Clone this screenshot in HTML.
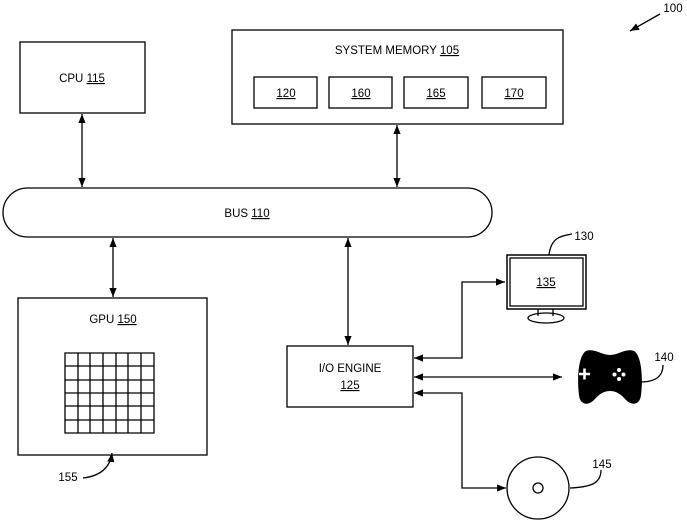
<!DOCTYPE html>
<html><head><style>
html,body{margin:0;padding:0;background:#fff}
svg{display:block}
text{font-family:"Liberation Sans",sans-serif;font-size:11.5px;fill:#000}
</style></head><body>
<svg width="687" height="522" viewBox="0 0 687 522" xmlns="http://www.w3.org/2000/svg">
<defs>
<marker id="a" viewBox="0 0 10 10" refX="10" refY="5" markerWidth="9" markerHeight="9" orient="auto-start-reverse" markerUnits="userSpaceOnUse"><path d="M0,1 L10,5 L0,9 z" fill="#000"/></marker>
</defs>
<g fill="none" stroke="#000" stroke-width="1.3">
<rect x="20" y="42" width="125" height="71"/>
<rect x="232" y="30" width="331" height="94"/>
<rect x="254" y="77" width="63" height="31"/>
<rect x="329" y="77" width="63" height="31"/>
<rect x="404" y="77" width="64" height="31"/>
<rect x="482" y="77" width="64" height="31"/>
<rect x="3" y="188" width="489" height="49" rx="24.5"/>
<rect x="18" y="298" width="189" height="157"/>
<rect x="287" y="346" width="126" height="61"/>
<line x1="82" y1="114" x2="82" y2="187" marker-start="url(#a)" marker-end="url(#a)"/>
<line x1="397" y1="125" x2="397" y2="187" marker-start="url(#a)" marker-end="url(#a)"/>
<line x1="113" y1="238" x2="113" y2="297" marker-start="url(#a)" marker-end="url(#a)"/>
<line x1="348" y1="238" x2="348" y2="345" marker-start="url(#a)" marker-end="url(#a)"/>
<path d="M414,358 H462 V282 H505" marker-start="url(#a)" marker-end="url(#a)"/>
<line x1="414" y1="377" x2="562" y2="377" marker-start="url(#a)" marker-end="url(#a)"/>
<path d="M414,393 H462 V488 H506" marker-start="url(#a)" marker-end="url(#a)"/>
<rect x="507" y="255" width="79" height="54" stroke-width="1.5"/>
<rect x="510" y="258" width="73" height="48" stroke-width="1.3"/>
<path d="M538,309 V316 M553,309 V316"/>
<ellipse cx="546" cy="318" rx="18" ry="5"/>
<path d="M549,255 C551,238 560,236 572,234"/>
<circle cx="538" cy="488" r="31"/>
<circle cx="538" cy="488" r="5"/>
<path d="M570,488 C590,487 601,484 601,470"/>
<path d="M640,382 C655,382 663,377 663,365"/>
<path d="M65,353 H154 V433 H65 Z M78,353 V433 M90,353 V433 M103,353 V433 M116,353 V433 M128,353 V433 M141,353 V433 M65,366 H154 M65,380 H154 M65,393 H154 M65,406 H154 M65,420 H154"/>
<path d="M83,478 C100,476 110,468 112,453" marker-end="url(#a)"/>
<path d="M660,14 L630,31" marker-end="url(#a)"/>
</g>
<path d="M586,351 C595,348 601,355 610,355 C619,355 625,348 634,351 C642,356 643,380 641,395 C640,405 632,406 626,400 C620,393 615,391 610,391 C605,391 600,393 594,400 C588,406 580,405 579,395 C577,380 578,356 586,351 Z" fill="#000"/>
<path d="M579,374 h11 M584.5,368.5 v11" stroke="#fff" stroke-width="2.6"/>
<g fill="#fff"><circle cx="619" cy="370" r="2"/><circle cx="619" cy="379" r="2"/><circle cx="614.5" cy="374.5" r="2"/><circle cx="623.5" cy="374.5" r="2"/></g>
<g text-anchor="middle">
<text x="82" y="82">CPU <tspan text-decoration="underline">115</tspan></text>
<text x="397" y="54">SYSTEM MEMORY  <tspan text-decoration="underline">105</tspan></text>
<text x="286" y="97" text-decoration="underline">120</text>
<text x="361" y="97" text-decoration="underline">160</text>
<text x="436" y="97" text-decoration="underline">165</text>
<text x="514" y="97" text-decoration="underline">170</text>
<text x="247" y="217">BUS <tspan text-decoration="underline">110</tspan></text>
<text x="113" y="323">GPU <tspan text-decoration="underline">150</tspan></text>
<text x="350" y="372">I/O ENGINE</text>
<text x="350" y="389" text-decoration="underline">125</text>
<text x="546" y="286" text-decoration="underline">135</text>
<text x="584" y="240">130</text>
<text x="664" y="361">140</text>
<text x="602" y="468">145</text>
<text x="68" y="481">155</text>
<text x="673" y="12">100</text>
</g>
</svg>
</body></html>
